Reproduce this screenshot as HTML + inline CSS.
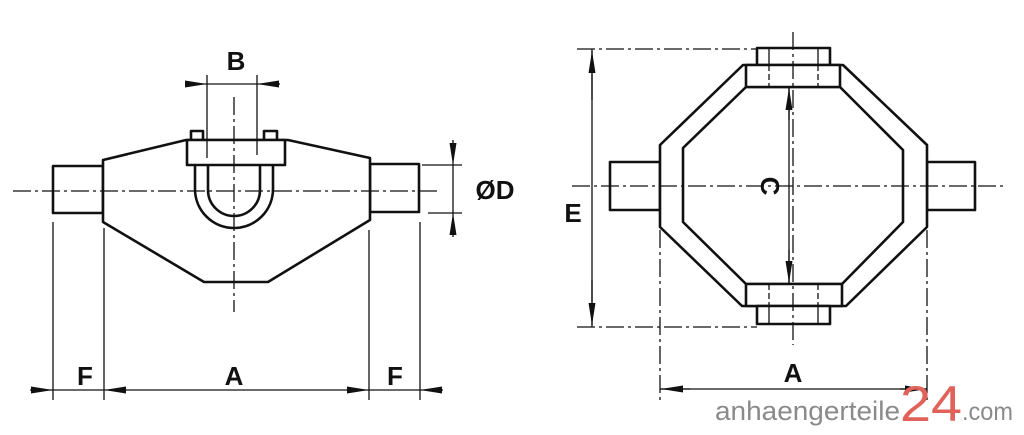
<!DOCTYPE html>
<html><head><meta charset="utf-8"><style>
html,body{margin:0;padding:0;background:#fff;width:1024px;height:435px;overflow:hidden}
svg{display:block}
text{font-family:"Liberation Sans",Arial,sans-serif}
</style></head><body>
<svg width="1024" height="435" viewBox="0 0 1024 435" xmlns="http://www.w3.org/2000/svg">
<defs>
<marker id="ar" viewBox="0 0 22 8" refX="22" refY="4" markerWidth="22" markerHeight="8" markerUnits="userSpaceOnUse" orient="auto"><path d="M0,0.5 L22,4 L0,7.5z" fill="#111"/></marker>
</defs>
<g fill="none" stroke="#111" stroke-width="2.6" stroke-linejoin="round">
<!-- LEFT VIEW -->
<rect x="53" y="166" width="50" height="47"/>
<rect x="370" y="164" width="49" height="48"/>
<path d="M103,160 L186,140 L288,140 L370,158 L370,220 L268,282 L204,282 L103,222 Z" fill="#fff"/>
<rect x="191" y="131" width="12" height="9" fill="#fff"/>
<rect x="264" y="131" width="13" height="9" fill="#fff"/>
<path d="M195,165 L195,189 A39,39 0 0 0 273,189 L273,165"/>
<path d="M208,165 L208,190 A26,26 0 0 0 260,190 L260,165"/>
<rect x="187" y="140" width="98" height="25" fill="#fff"/>
</g>
<g stroke="#111" stroke-width="1.3" fill="none">
<line x1="13" y1="191" x2="440" y2="191" stroke-dasharray="18,4,3,4"/>
<line x1="234" y1="97" x2="234" y2="312" stroke-dasharray="18,4,3,4"/>
<line x1="207" y1="75" x2="207" y2="158"/><line x1="257" y1="75" x2="257" y2="155"/>
<line x1="185" y1="84" x2="207" y2="84" marker-end="url(#ar)"/>
<line x1="280" y1="84" x2="257" y2="84" marker-end="url(#ar)"/>
<line x1="207" y1="84" x2="257" y2="84"/>
<line x1="422" y1="165" x2="462" y2="165"/><line x1="428" y1="213" x2="462" y2="213"/>
<line x1="453" y1="140" x2="453" y2="165" marker-end="url(#ar)"/>
<line x1="453" y1="237" x2="453" y2="213" marker-end="url(#ar)"/>
<line x1="453" y1="165" x2="453" y2="213"/>
<line x1="53" y1="222" x2="53" y2="400"/><line x1="104" y1="228" x2="104" y2="400"/>
<line x1="369" y1="230" x2="369" y2="400"/><line x1="420" y1="222" x2="420" y2="400"/>
<line x1="30" y1="390" x2="53" y2="390" marker-end="url(#ar)"/>
<line x1="53" y1="390" x2="104" y2="390"/>
<line x1="126" y1="390" x2="104" y2="390" marker-end="url(#ar)"/>
<line x1="126" y1="390" x2="347" y2="390"/>
<line x1="347" y1="390" x2="369" y2="390" marker-end="url(#ar)"/>
<line x1="369" y1="390" x2="420" y2="390"/>
<line x1="443" y1="390" x2="420" y2="390" marker-end="url(#ar)"/>
</g>
<!-- RIGHT VIEW -->
<g fill="none" stroke="#111" stroke-width="2.6" stroke-linejoin="round">
<rect x="610" y="162" width="50" height="48"/>
<rect x="927" y="162" width="48" height="48"/>
<path d="M743,65 L843,65 L927,145 L927,227 L846,306 L742,306 L660,227 L660,145 Z" fill="#fff"/>
<path d="M746,87 L840,87 L903,150 L903,222 L842,284 L746,284 L683,222 L683,148 Z"/>
<rect x="757" y="48" width="73" height="17" fill="#fff"/>
<rect x="746" y="65" width="94" height="22" fill="#fff"/>
<rect x="746" y="284" width="96" height="22" fill="#fff"/>
<rect x="757" y="306" width="73" height="18" fill="#fff"/>
</g>
<g stroke="#111" stroke-width="1.3" fill="none">
<line x1="769" y1="48" x2="769" y2="65"/><line x1="818" y1="48" x2="818" y2="65"/>
<line x1="769" y1="306" x2="769" y2="324"/><line x1="818" y1="306" x2="818" y2="324"/>
<line x1="769" y1="65" x2="769" y2="87" stroke-dasharray="6,3"/><line x1="818" y1="65" x2="818" y2="87" stroke-dasharray="6,3"/>
<line x1="769" y1="284" x2="769" y2="306" stroke-dasharray="6,3"/><line x1="818" y1="284" x2="818" y2="306" stroke-dasharray="6,3"/>
<line x1="577" y1="49" x2="757" y2="49" stroke-dasharray="18,4,3,4"/>
<line x1="577" y1="327" x2="757" y2="327" stroke-dasharray="18,4,3,4"/>
<line x1="592" y1="49" x2="592" y2="327"/>
<line x1="592" y1="100" x2="592" y2="51" marker-end="url(#ar)"/>
<line x1="592" y1="280" x2="592" y2="325" marker-end="url(#ar)"/>
<line x1="572" y1="186" x2="1005" y2="186" stroke-dasharray="18,4,3,4"/>
<line x1="793" y1="32" x2="793" y2="345" stroke-dasharray="18,4,3,4"/>
<line x1="789" y1="87" x2="789" y2="284"/>
<line x1="789" y1="120" x2="789" y2="88" marker-end="url(#ar)"/>
<line x1="789" y1="250" x2="789" y2="283" marker-end="url(#ar)"/>
<line x1="660" y1="230" x2="660" y2="400" stroke-dasharray="18,4,3,4"/>
<line x1="927" y1="230" x2="927" y2="400" stroke-dasharray="18,4,3,4"/>
<line x1="660" y1="389" x2="927" y2="389"/>
<line x1="690" y1="389" x2="661" y2="389" marker-end="url(#ar)"/>
<line x1="900" y1="389" x2="927" y2="389" marker-end="url(#ar)"/>
</g>
<g font-weight="bold" font-size="26" fill="#111" text-anchor="middle">
<text x="236" y="70">B</text>
<text x="495" y="199">ØD</text>
<text x="85" y="385">F</text>
<text x="234" y="385">A</text>
<text x="395" y="385">F</text>
<text x="573" y="222">E</text>
<text x="793" y="382">A</text>
<text transform="translate(770,186) rotate(90)" y="9">C</text>
</g>
<!-- watermark -->
<text x="715" y="420" font-size="27" fill="#8a8a8a" textLength="185" lengthAdjust="spacingAndGlyphs">anhaengerteile</text>
<text x="900" y="421" font-size="50" fill="#e0625a" textLength="62" lengthAdjust="spacingAndGlyphs">24</text>
<text x="962" y="420" font-size="25" fill="#8a8a8a" textLength="51" lengthAdjust="spacingAndGlyphs">.com</text>
</svg>
</body></html>
